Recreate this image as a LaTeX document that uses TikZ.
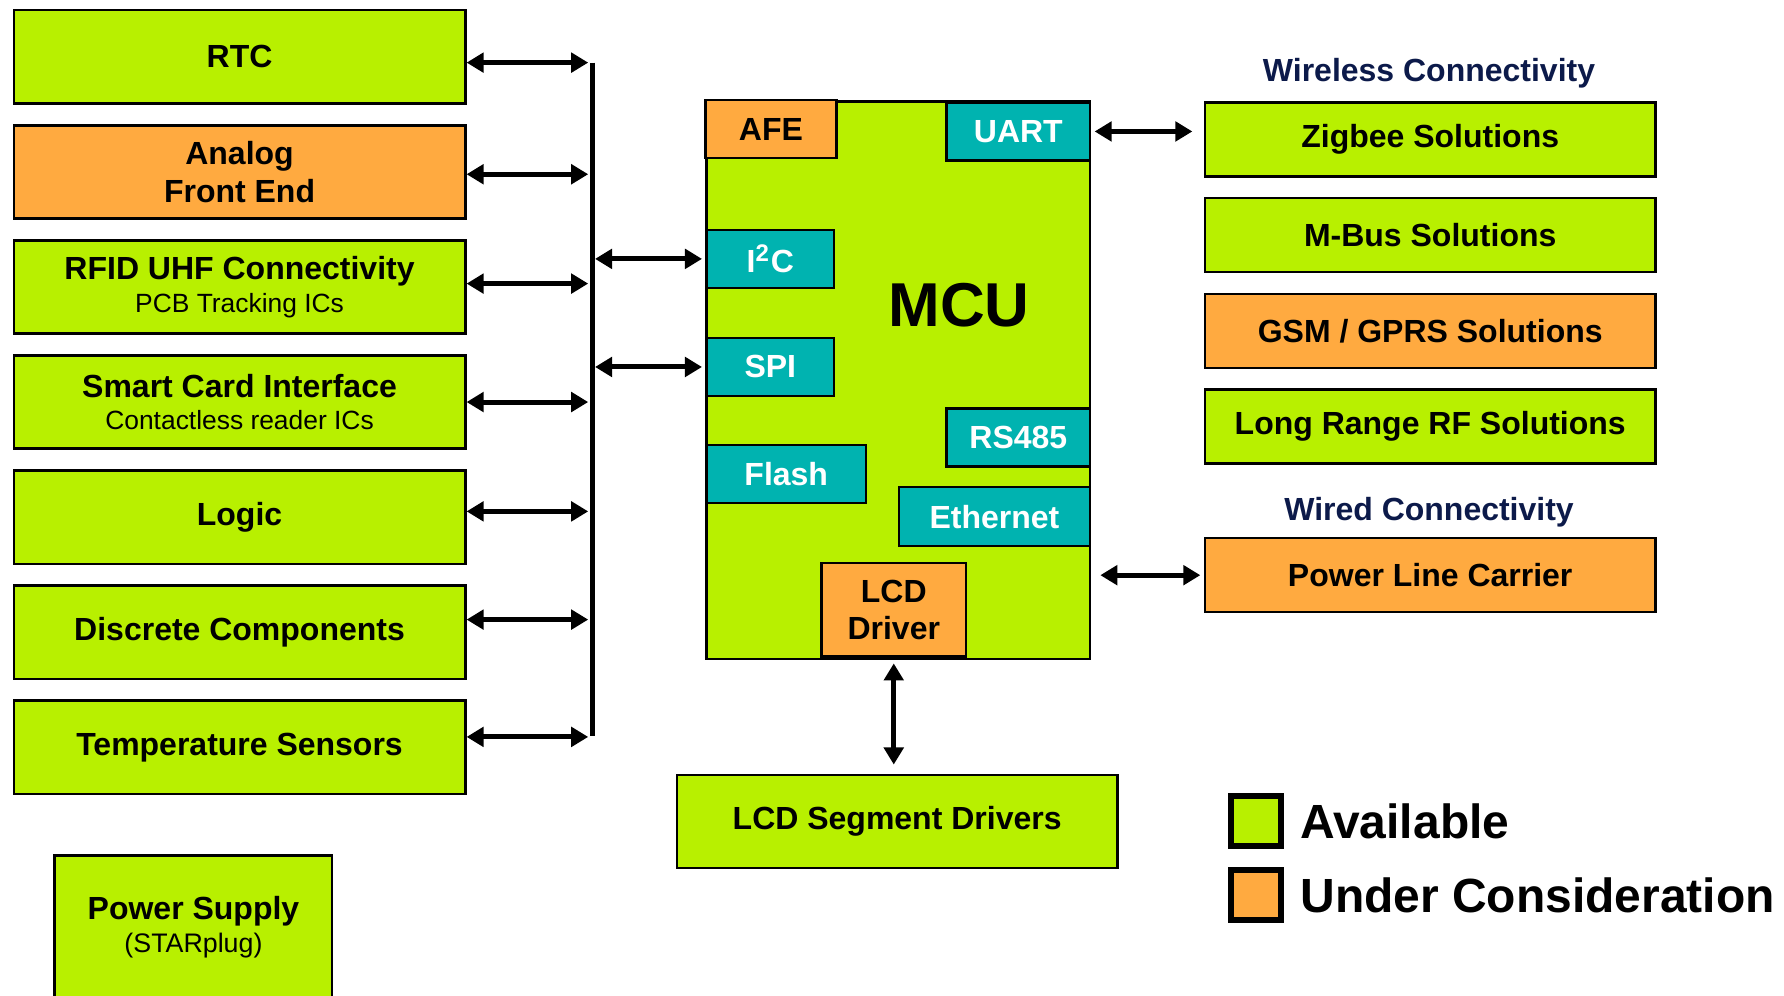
\documentclass[tikz,border=0pt]{standalone}
\usepackage{fontspec}
\setmainfont{Liberation Sans}
\usetikzlibrary{positioning,arrows.meta}

\definecolor{availgreen}{HTML}{B8F000}
\definecolor{considorange}{HTML}{FFAA40}
\definecolor{portteal}{HTML}{00B3B0}
\definecolor{headnavy}{HTML}{0C1A4A}

\begin{document}
\begin{tikzpicture}[x=0.1mm, y=-0.1mm,
  box/.style={draw, line width=0.6pt, align=center, minimum width=39.7mm, minimum height=8.2mm, inner sep=0pt, font=\fontsize{8}{9.4}\selectfont\bfseries, fill=availgreen},
  rbox/.style={box, minimum width=39.6mm, minimum height=6.5mm},
  todo/.style={fill=considorange},
  port/.style={draw, line width=0.6pt, fill=portteal, text=white, inner sep=0pt, minimum height=5.1mm, font=\fontsize{8}{9.4}\selectfont\bfseries, anchor=north west},
  heading/.style={text=headnavy, inner sep=0pt, font=\fontsize{8}{9.4}\selectfont\bfseries},
  dbl/.style={{Triangle[length=1.5mm,width=1.7mm]}-{Triangle[length=1.5mm,width=1.7mm]}, line width=1.25pt},
  key/.style={draw, line width=1.5pt, minimum size=4.4mm, inner sep=0pt, anchor=north west},
  keytext/.style={inner sep=0pt, font=\fontsize{12}{14}\selectfont\bfseries}
]
\clip (0,0) rectangle (1568,875);

\node[box, anchor=north west] (rtc) at (11,8) {RTC};
\node[box, todo, below=1.7mm of rtc] (afe) {Analog\\Front End};
\node[box, below=1.7mm of afe] (rfid) {RFID UHF Connectivity\\[-1.2pt]{\mdseries\fontsize{6.6}{8}\selectfont PCB Tracking ICs}};
\node[box, below=1.7mm of rfid] (smart) {Smart Card Interface\\[-1.2pt]{\mdseries\fontsize{6.6}{8}\selectfont Contactless reader ICs}};
\node[box, below=1.7mm of smart] (logic) {Logic};
\node[box, below=1.7mm of logic] (discrete) {Discrete Components};
\node[box, below=1.7mm of discrete] (temp) {Temperature Sensors};
\node[box, minimum width=24.4mm, minimum height=12.6mm, anchor=north west] (power) at (47,751) {Power Supply\\[-1pt]{\mdseries\fontsize{6.7}{8}\selectfont (STARplug)}};

\node[draw, line width=0.6pt, fill=availgreen, minimum width=33.7mm, minimum height=49mm, inner sep=0pt, anchor=north west] (mcu) at (620,88) {};
\node[font=\fontsize{15.5}{18}\selectfont\bfseries] (mculabel) at (843,268) {MCU};
\node[port, todo, text=black, minimum width=11.5mm] (afeport) at (619,87) {AFE};
\node[port, minimum width=12.6mm] (uart) at (831,89) {UART};
\node[port, minimum width=11.2mm] (i2c) at (620,201) {I\textsuperscript{2}C};
\node[port, minimum width=11.2mm] (spi) at (620,296) {SPI};
\node[port, minimum width=14mm] (flash) at (620,390) {Flash};
\node[port, minimum width=12.6mm] (rs485) at (831,358) {RS485};
\node[port, minimum width=16.8mm, minimum height=5.2mm] (eth) at (789,427) {Ethernet};
\node[port, todo, text=black, minimum width=12.7mm, minimum height=8.2mm, align=center] (lcddrv) at (721,494) {LCD\\Driver};

\node[box, minimum width=38.7mm, anchor=north west] (lcdseg) at (594,680) {LCD Segment Drivers};

\node[heading] (wireless) at (1256,64) {Wireless Connectivity};
\node[rbox, anchor=north west] (zigbee) at (1058,89) {Zigbee Solutions};
\node[rbox, below=1.7mm of zigbee] (mbus) {M-Bus Solutions};
\node[rbox, todo, below=1.7mm of mbus] (gsm) {GSM / GPRS Solutions};
\node[rbox, below=1.7mm of gsm] (lrrf) {Long Range RF Solutions};
\node[heading] (wired) at (1256,450) {Wired Connectivity};
\node[rbox, todo, anchor=north west] (plc) at (1058,472) {Power Line Carrier};

\node[key, fill=availgreen] (keyavail) at (1079,697) {};
\node[key, fill=considorange] (keytodo) at (1079,762) {};
\node[keytext, right=1.4mm of keyavail] (availtext) {Available};
\node[keytext, right=1.4mm of keytodo] (todotext) {Under Consideration};

\coordinate (bustop) at (521,55);
\coordinate (busbot) at (521,647);
\draw[line width=1.25pt] (bustop) -- (busbot);

\draw[dbl, shorten >=0.4mm] ([yshift=-0.5mm]rtc.east) -- ([yshift=-0.5mm]rtc.east -| bustop);
\draw[dbl, shorten >=0.4mm] ([yshift=-0.2mm]afe.east) -- ([yshift=-0.2mm]afe.east -| bustop);
\draw[dbl, shorten >=0.4mm] ([yshift=0.3mm]rfid.east) -- ([yshift=0.3mm]rfid.east -| bustop);
\draw[dbl, shorten >=0.4mm] (smart.east) -- (smart.east -| bustop);
\draw[dbl, shorten >=0.4mm] ([yshift=0.5mm]logic.east) -- ([yshift=0.5mm]logic.east -| bustop);
\draw[dbl, shorten >=0.4mm] ([yshift=1.1mm]discrete.east) -- ([yshift=1.1mm]discrete.east -| bustop);
\draw[dbl, shorten >=0.4mm] ([yshift=0.9mm]temp.east) -- ([yshift=0.9mm]temp.east -| bustop);
\draw[dbl, shorten <=0.2mm, shorten >=0.3mm] (i2c.west -| bustop) -- (i2c.west);
\draw[dbl, shorten <=0.2mm, shorten >=0.3mm] (spi.west -| bustop) -- (spi.west);
\draw[dbl, shorten <=0.3mm, shorten >=1mm] (uart.east) -- (uart.east -| zigbee.west);
\draw[dbl, shorten <=0.8mm, shorten >=0.3mm] (plc.west -| mcu.east) -- (plc.west);
\draw[dbl, shorten <=0.5mm, shorten >=0.8mm] (lcddrv.south) -- (lcddrv.south |- lcdseg.north);
\end{tikzpicture}
\end{document}
